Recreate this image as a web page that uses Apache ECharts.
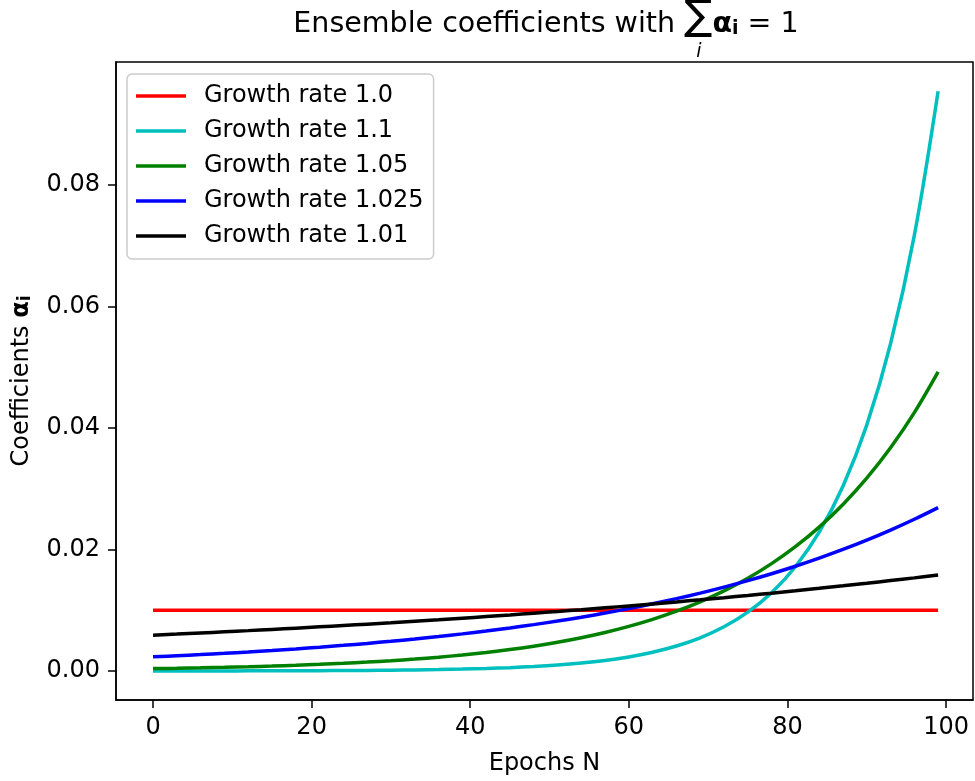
<!DOCTYPE html>
<html>
<head>
<meta charset="utf-8">
<script src="https://cdn.jsdelivr.net/npm/echarts@6/dist/echarts.min.js"></script>
<style>
  html, body { margin: 0; padding: 0; background: #fff; }
  #chart { width: 975px; height: 781px; }
</style>
</head>
<body>
<div id="chart"></div>
<script>
// epochs sampled every 3 (last one is 99)
const epochs = [0, 3, 6, 9, 12, 15, 18, 21, 24, 27, 30, 33, 36, 39, 42, 45, 48, 51,
  54, 57, 60, 63, 66, 69, 72, 75, 78, 81, 84, 87, 90, 93, 96, 99];

const rate100 = [0.01, 0.01, 0.01, 0.01, 0.01, 0.01, 0.01, 0.01, 0.01, 0.01, 0.01, 0.01,
  0.01, 0.01, 0.01, 0.01, 0.01, 0.01, 0.01, 0.01, 0.01, 0.01, 0.01, 0.01, 0.01, 0.01,
  0.01, 0.01, 0.01, 0.01, 0.01, 0.01, 0.01, 0.01];
const rate110 = [0.0000076, 0.0000101, 0.0000135, 0.0000180, 0.0000239, 0.0000318,
  0.0000423, 0.0000564, 0.0000750, 0.0000998, 0.000133, 0.000177, 0.000235, 0.000313,
  0.000417, 0.000555, 0.000739, 0.000983, 0.001309, 0.001742, 0.002319, 0.003086,
  0.004108, 0.005467, 0.007277, 0.009686, 0.012891, 0.017158, 0.022838, 0.030397,
  0.040459, 0.053851, 0.071676, 0.095400];
const rate105 = [0.000393, 0.000455, 0.000527, 0.000610, 0.000706, 0.000817, 0.000946,
  0.001095, 0.001267, 0.001467, 0.001699, 0.001966, 0.002276, 0.002635, 0.003050,
  0.003531, 0.004088, 0.004732, 0.005478, 0.006341, 0.007341, 0.008498, 0.009838,
  0.011388, 0.013183, 0.015261, 0.017667, 0.020452, 0.023675, 0.027407, 0.031727,
  0.036728, 0.042517, 0.049219];
const rate1025 = [0.002333, 0.002512, 0.002706, 0.002914, 0.003138, 0.003379, 0.003639,
  0.003918, 0.004220, 0.004544, 0.004894, 0.005270, 0.005675, 0.006111, 0.006581,
  0.007087, 0.007632, 0.008219, 0.008851, 0.009532, 0.010265, 0.011054, 0.011904,
  0.012819, 0.013805, 0.014866, 0.016009, 0.017240, 0.018566, 0.019994, 0.021531,
  0.023186, 0.024969, 0.026889];
const rate101 = [0.005896, 0.006075, 0.006259, 0.006448, 0.006644, 0.006845, 0.007053,
  0.007266, 0.007486, 0.007713, 0.007947, 0.008188, 0.008436, 0.008691, 0.008955,
  0.009226, 0.009506, 0.009794, 0.010091, 0.010396, 0.010711, 0.011036, 0.011370,
  0.011715, 0.012070, 0.012436, 0.012812, 0.013200, 0.013601, 0.014013, 0.014437,
  0.014875, 0.015325, 0.015790];

const seriesNames = ['Growth rate 1.0', 'Growth rate 1.1', 'Growth rate 1.05',
  'Growth rate 1.025', 'Growth rate 1.01'];
const seriesColors = ['#ff0000', '#00bfbf', '#008000', '#0000ff', '#000000'];
const seriesValues = [rate100, rate110, rate105, rate1025, rate101];

const xTicks = [0, 20, 40, 60, 80, 100];
const yTicks = [0, 0.02, 0.04, 0.06, 0.08];

const font = 'DejaVu Sans';
const chart = echarts.init(document.getElementById('chart'));

const series = seriesValues.map((vals, k) => ({
  name: seriesNames[k],
  type: 'line',
  data: vals.map((v, i) => [epochs[i], v]),
  showSymbol: false,
  symbol: 'none',
  smooth: 0.35,
  color: seriesColors[k],
  lineStyle: { color: seriesColors[k], width: 3.5 },
  animation: false
}));

chart.setOption({
  animation: false,
  backgroundColor: '#fff',
  title: {
    text: '{t|Ensemble coefficients with }{s|∑}{a|α}{b|i}{t| = 1}',
    left: 541,
    textAlign: 'center',
    top: -10,
    textStyle: {
      rich: {
        t: { fontFamily: font, fontSize: 28.5, fontWeight: 'normal', color: '#000', lineHeight: 34, verticalAlign: 'bottom' },
        s: { fontFamily: font, fontSize: 42, fontWeight: 'normal', color: '#000', lineHeight: 44, verticalAlign: 'bottom' },
        a: { fontFamily: font, fontSize: 28.5, fontWeight: 'bold', color: '#000', lineHeight: 34, verticalAlign: 'bottom' },
        b: { fontFamily: font, fontSize: 19, fontWeight: 'bold', color: '#000', lineHeight: 26, verticalAlign: 'bottom' }
      }
    }
  },
  graphic: [{
    type: 'text',
    x: 699,
    y: 52,
    style: {
      text: 'i',
      font: 'italic 19px "DejaVu Sans"',
      fill: '#000',
      align: 'center',
      verticalAlign: 'middle'
    }
  }],
  legend: {
    orient: 'vertical',
    left: 127,
    top: 74,
    padding: [10, 10, 11, 9],
    icon: 'rect',
    itemWidth: 50,
    itemHeight: 3.5,
    itemGap: 11,
    backgroundColor: 'rgba(255,255,255,0.8)',
    borderColor: '#cccccc',
    borderWidth: 1.5,
    borderRadius: 5,
    textStyle: { fontFamily: font, fontSize: 24, color: '#000', lineHeight: 24, padding: [0, 0, 0, 13] },
    data: seriesNames
  },
  grid: {
    left: 116,
    right: 2,
    top: 62,
    bottom: 75,
    show: true,
    borderColor: '#000',
    borderWidth: 1.5,
    containLabel: false
  },
  xAxis: {
    type: 'value',
    min: -4.67,
    max: 103.4,
    name: 'Epochs N',
    nameLocation: 'middle',
    nameGap: 52,
    nameTextStyle: { fontFamily: font, fontSize: 24, color: '#000' },
    axisLine: { show: true, onZero: false, lineStyle: { color: '#000', width: 1.5 } },
    axisTick: { show: true, length: 8, customValues: xTicks, lineStyle: { color: '#000', width: 1.5 } },
    axisLabel: { customValues: xTicks, margin: 16, fontFamily: font, fontSize: 24, color: '#000' },
    splitLine: { show: false }
  },
  yAxis: {
    type: 'value',
    min: -0.00477,
    max: 0.1002,
    name: '{t|Coefficients }{a|α}{b|i}',
    nameLocation: 'middle',
    nameGap: 82,
    nameRotate: 90,
    nameTextStyle: {
      rich: {
        t: { fontFamily: font, fontSize: 24, color: '#000', lineHeight: 30, verticalAlign: 'bottom' },
        a: { fontFamily: font, fontSize: 24, fontWeight: 'bold', color: '#000', lineHeight: 30, verticalAlign: 'bottom' },
        b: { fontFamily: font, fontSize: 17, fontWeight: 'bold', color: '#000', lineHeight: 22, verticalAlign: 'bottom' }
      }
    },
    axisLine: { show: true, onZero: false, lineStyle: { color: '#000', width: 1.5 } },
    axisTick: { show: true, length: 8, customValues: yTicks, lineStyle: { color: '#000', width: 1.5 } },
    axisLabel: {
      customValues: yTicks,
      margin: 16,
      fontFamily: font,
      fontSize: 24,
      color: '#000',
      formatter: v => v.toFixed(2)
    },
    splitLine: { show: false }
  },
  series: series
});
</script>
</body>
</html>
